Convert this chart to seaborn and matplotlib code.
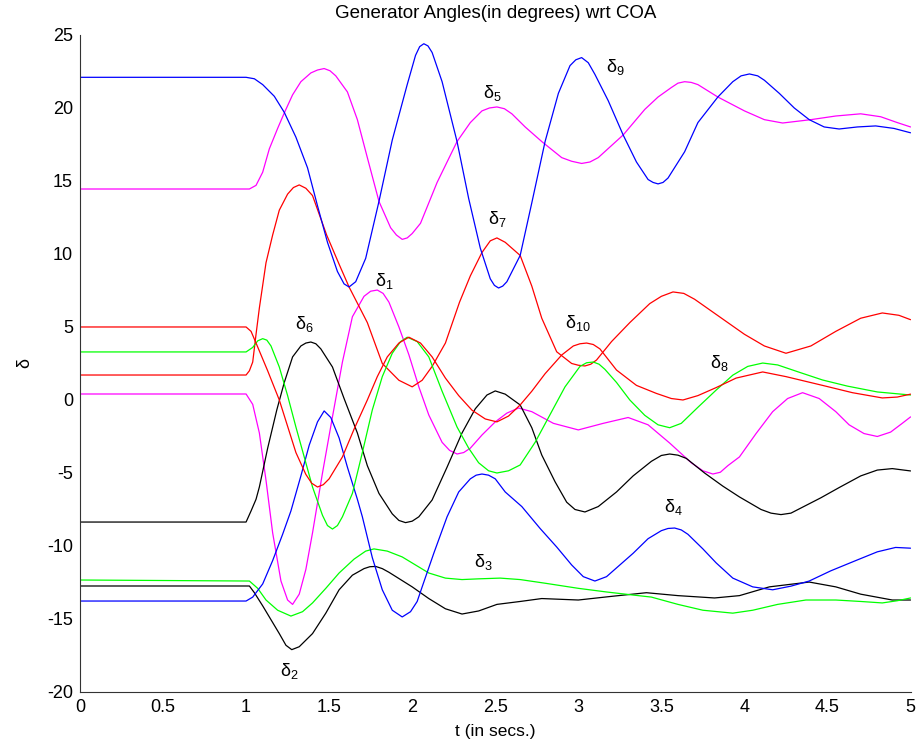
import matplotlib
matplotlib.use("Agg")
import matplotlib.pyplot as plt
import seaborn as sns

# Rotor angles of the ten generators relative to the centre of angle (degrees)
t_d1 = [0, 1.0, 1.04, 1.08, 1.12, 1.16, 1.21, 1.25, 1.28, 1.32, 1.36, 1.40, 1.46, 1.52, 1.58, 1.64, 1.71, 1.75, 1.79, 1.825, 1.86, 1.92, 1.98, 2.04, 2.10, 2.18, 2.225, 2.27, 2.31, 2.35, 2.42, 2.50, 2.57, 2.64, 2.72, 2.85, 3.0, 3.15, 3.30, 3.42, 3.55, 3.68, 3.75, 3.81, 3.855, 3.90, 3.97, 4.07, 4.17, 4.26, 4.35, 4.45, 4.55, 4.63, 4.72, 4.80, 4.88, 4.95, 5.0]
v_d1 = [0.41, 0.41, -0.3, -2.26, -5.5, -9.1, -12.4, -13.7, -14.0, -13.3, -11.6, -9.1, -5.0, -1.16, 2.6, 5.7, 7.1, 7.45, 7.53, 7.3, 6.7, 5.0, 3.1, 0.9, -1.03, -2.9, -3.45, -3.7, -3.6, -3.3, -2.4, -1.5, -0.9, -0.55, -0.8, -1.6, -2.05, -1.6, -1.2, -1.7, -2.95, -4.3, -4.85, -5.07, -4.95, -4.5, -3.9, -2.3, -0.8, 0.1, 0.5, 0.1, -0.8, -1.7, -2.3, -2.5, -2.2, -1.6, -1.16]

t_d2 = [0, 1.02, 1.05, 1.10, 1.14, 1.20, 1.24, 1.275, 1.32, 1.40, 1.48, 1.56, 1.64, 1.71, 1.745, 1.78, 1.82, 1.86, 1.93, 2.0, 2.10, 2.20, 2.30, 2.40, 2.51, 2.65, 2.78, 3.0, 3.2, 3.41, 3.60, 3.82, 3.97, 4.15, 4.39, 4.55, 4.70, 4.89, 5.0]
v_d2 = [-12.74, -12.74, -13.2, -14.1, -14.86, -16.0, -16.8, -17.1, -16.9, -16.0, -14.6, -13.0, -12.0, -11.55, -11.42, -11.4, -11.55, -11.8, -12.3, -12.8, -13.6, -14.3, -14.66, -14.45, -14.0, -13.8, -13.6, -13.7, -13.45, -13.2, -13.4, -13.56, -13.4, -12.8, -12.47, -12.8, -13.3, -13.7, -13.7]

t_d3 = [0, 1.02, 1.07, 1.12, 1.19, 1.27, 1.34, 1.40, 1.48, 1.56, 1.65, 1.72, 1.77, 1.85, 1.94, 2.02, 2.10, 2.20, 2.30, 2.40, 2.53, 2.65, 2.80, 3.0, 3.17, 3.33, 3.44, 3.60, 3.75, 3.93, 4.05, 4.20, 4.37, 4.55, 4.70, 4.83, 4.92, 5.0]
v_d3 = [-12.33, -12.4, -12.9, -13.7, -14.4, -14.8, -14.5, -13.9, -12.9, -11.85, -10.9, -10.35, -10.2, -10.35, -10.75, -11.3, -11.85, -12.2, -12.3, -12.25, -12.2, -12.3, -12.55, -12.9, -13.15, -13.36, -13.5, -14.0, -14.4, -14.6, -14.4, -14.0, -13.7, -13.7, -13.8, -13.9, -13.75, -13.56]

t_d4 = [0, 1.0, 1.04, 1.10, 1.16, 1.22, 1.27, 1.33, 1.38, 1.43, 1.47, 1.51, 1.56, 1.61, 1.67, 1.70, 1.76, 1.82, 1.88, 1.94, 1.99, 2.03, 2.06, 2.13, 2.21, 2.28, 2.35, 2.385, 2.42, 2.46, 2.50, 2.56, 2.66, 2.77, 2.87, 2.96, 3.03, 3.10, 3.17, 3.25, 3.33, 3.42, 3.50, 3.54, 3.58, 3.62, 3.66, 3.75, 3.83, 3.93, 4.05, 4.17, 4.28, 4.39, 4.52, 4.67, 4.80, 4.91, 5.0]
v_d4 = [-13.77, -13.77, -13.5, -12.6, -11.0, -9.2, -7.6, -5.2, -3.1, -1.5, -0.75, -1.2, -2.6, -4.6, -6.8, -8.0, -10.8, -13.0, -14.4, -14.86, -14.5, -13.8, -12.8, -10.5, -8.0, -6.3, -5.4, -5.15, -5.07, -5.15, -5.4, -6.3, -7.3, -8.8, -10.07, -11.3, -12.1, -12.4, -12.1, -11.3, -10.5, -9.5, -8.95, -8.8, -8.77, -8.9, -9.2, -10.2, -11.16, -12.2, -12.8, -13.0, -12.75, -12.4, -11.7, -11.0, -10.4, -10.1, -10.15]

t_d5 = [0, 1.02, 1.06, 1.10, 1.14, 1.19, 1.23, 1.28, 1.33, 1.39, 1.43, 1.47, 1.505, 1.54, 1.61, 1.67, 1.73, 1.80, 1.87, 1.905, 1.94, 1.97, 2.00, 2.05, 2.15, 2.27, 2.35, 2.42, 2.465, 2.51, 2.555, 2.60, 2.68, 2.78, 2.90, 2.96, 3.02, 3.07, 3.12, 3.27, 3.40, 3.48, 3.56, 3.60, 3.64, 3.68, 3.72, 3.84, 4.00, 4.12, 4.23, 4.40, 4.55, 4.70, 4.82, 4.92, 5.0]
v_d5 = [14.45, 14.45, 14.7, 15.6, 17.2, 18.6, 19.66, 20.9, 21.8, 22.4, 22.6, 22.7, 22.55, 22.2, 21.1, 19.2, 16.6, 13.6, 11.8, 11.3, 11.0, 11.1, 11.4, 12.1, 14.9, 17.7, 19.0, 19.8, 20.0, 20.07, 19.95, 19.6, 18.7, 17.7, 16.6, 16.35, 16.2, 16.3, 16.6, 18.15, 19.9, 20.75, 21.4, 21.7, 21.8, 21.75, 21.6, 20.75, 19.8, 19.2, 18.97, 19.2, 19.45, 19.6, 19.4, 19.0, 18.7]

t_d6 = [0, 1.0, 1.03, 1.06, 1.08, 1.13, 1.185, 1.23, 1.28, 1.33, 1.36, 1.39, 1.42, 1.45, 1.52, 1.59, 1.67, 1.73, 1.80, 1.88, 1.92, 1.96, 2.0, 2.04, 2.12, 2.21, 2.30, 2.38, 2.45, 2.50, 2.56, 2.65, 2.72, 2.78, 2.86, 2.93, 2.98, 3.04, 3.12, 3.23, 3.33, 3.44, 3.50, 3.55, 3.60, 3.65, 3.76, 3.87, 3.97, 4.10, 4.16, 4.22, 4.28, 4.34, 4.46, 4.57, 4.70, 4.80, 4.89, 5.0]
v_d6 = [-8.36, -8.36, -7.6, -6.8, -5.96, -3.3, -0.68, 1.2, 2.95, 3.7, 3.9, 3.97, 3.85, 3.5, 2.26, 0.1, -2.26, -4.5, -6.4, -7.8, -8.25, -8.4, -8.3, -8.0, -6.85, -4.6, -2.26, -0.6, 0.34, 0.62, 0.4, -0.34, -1.9, -3.77, -5.6, -7.0, -7.5, -7.67, -7.3, -6.3, -5.2, -4.2, -3.8, -3.7, -3.78, -4.0, -5.0, -5.9, -6.64, -7.5, -7.75, -7.85, -7.75, -7.4, -6.7, -6.0, -5.2, -4.8, -4.7, -4.86]

t_d7 = [0, 1.0, 1.02, 1.04, 1.06, 1.08, 1.12, 1.16, 1.20, 1.25, 1.285, 1.32, 1.36, 1.40, 1.485, 1.56, 1.62, 1.73, 1.82, 1.92, 2.0, 2.06, 2.12, 2.20, 2.285, 2.35, 2.42, 2.47, 2.51, 2.56, 2.65, 2.72, 2.78, 2.87, 2.96, 3.0, 3.04, 3.075, 3.11, 3.20, 3.31, 3.43, 3.50, 3.57, 3.635, 3.70, 3.85, 4.00, 4.12, 4.25, 4.40, 4.55, 4.70, 4.83, 4.93, 5.0]
v_d7 = [1.71, 1.71, 2.0, 2.6, 4.5, 6.3, 9.4, 11.3, 13.0, 14.1, 14.55, 14.73, 14.5, 14.0, 11.3, 9.3, 7.74, 5.3, 2.5, 1.35, 0.9, 1.35, 2.3, 3.9, 6.7, 8.5, 10.1, 10.9, 11.1, 10.8, 9.9, 7.8, 5.6, 3.3, 2.5, 2.38, 2.33, 2.45, 2.74, 4.0, 5.3, 6.6, 7.1, 7.4, 7.3, 6.9, 5.7, 4.5, 3.7, 3.2, 3.7, 4.7, 5.6, 5.96, 5.8, 5.5]

t_d8 = [0, 1.0, 1.04, 1.07, 1.10, 1.125, 1.15, 1.20, 1.25, 1.30, 1.35, 1.40, 1.46, 1.49, 1.52, 1.55, 1.58, 1.64, 1.70, 1.76, 1.82, 1.88, 1.93, 1.97, 2.03, 2.10, 2.18, 2.27, 2.34, 2.40, 2.46, 2.51, 2.58, 2.65, 2.74, 2.83, 2.92, 3.01, 3.05, 3.09, 3.125, 3.16, 3.23, 3.31, 3.40, 3.48, 3.55, 3.62, 3.72, 3.83, 3.93, 4.02, 4.11, 4.20, 4.33, 4.47, 4.62, 4.80, 5.0]
v_d8 = [3.29, 3.29, 3.6, 4.05, 4.2, 4.1, 3.7, 2.26, 0.3, -1.85, -3.9, -5.96, -7.9, -8.6, -8.84, -8.6, -8.0, -6.4, -3.6, -0.68, 1.6, 3.2, 4.0, 4.3, 4.0, 2.95, 0.6, -1.85, -3.3, -4.3, -4.85, -5.0, -4.85, -4.45, -2.9, -1.0, 0.9, 2.3, 2.55, 2.6, 2.45, 2.1, 1.2, 0.0, -1.05, -1.7, -1.9, -1.6, -0.5, 0.68, 1.7, 2.3, 2.53, 2.4, 1.9, 1.37, 0.95, 0.55, 0.34]

t_d9 = [0, 1.0, 1.05, 1.10, 1.17, 1.23, 1.30, 1.37, 1.43, 1.49, 1.55, 1.59, 1.62, 1.66, 1.72, 1.80, 1.88, 1.97, 2.02, 2.045, 2.07, 2.095, 2.12, 2.18, 2.27, 2.34, 2.41, 2.47, 2.495, 2.52, 2.545, 2.57, 2.65, 2.72, 2.80, 2.88, 2.95, 2.985, 3.02, 3.06, 3.10, 3.18, 3.27, 3.35, 3.42, 3.45, 3.48, 3.51, 3.54, 3.64, 3.72, 3.84, 3.93, 3.98, 4.03, 4.08, 4.12, 4.21, 4.30, 4.39, 4.48, 4.57, 4.68, 4.79, 4.90, 5.0]
v_d9 = [22.1, 22.1, 22.0, 21.6, 20.8, 19.7, 18.0, 15.9, 13.3, 10.8, 8.8, 7.95, 7.74, 8.1, 9.7, 13.6, 17.8, 21.6, 23.6, 24.2, 24.4, 24.25, 23.8, 21.8, 17.7, 13.8, 10.4, 8.3, 7.85, 7.67, 7.8, 8.1, 9.9, 13.5, 17.7, 21.0, 22.9, 23.3, 23.45, 23.1, 22.3, 20.5, 18.15, 16.3, 15.1, 14.9, 14.8, 14.9, 15.2, 17.0, 19.0, 20.75, 21.8, 22.2, 22.33, 22.2, 21.9, 21.0, 20.0, 19.2, 18.7, 18.56, 18.7, 18.77, 18.6, 18.3]

t_d10 = [0, 1.0, 1.03, 1.06, 1.13, 1.20, 1.25, 1.30, 1.36, 1.395, 1.43, 1.465, 1.50, 1.58, 1.65, 1.73, 1.79, 1.85, 1.92, 1.98, 2.05, 2.12, 2.20, 2.28, 2.36, 2.44, 2.51, 2.58, 2.65, 2.72, 2.80, 2.90, 2.97, 3.01, 3.05, 3.09, 3.13, 3.23, 3.35, 3.47, 3.56, 3.63, 3.72, 3.83, 3.95, 4.11, 4.25, 4.47, 4.65, 4.83, 4.92, 5.0]
v_d10 = [5.0, 5.0, 4.7, 3.9, 2.0, 0.0, -1.8, -3.6, -5.1, -5.7, -5.96, -5.8, -5.4, -3.9, -2.0, 0.0, 1.6, 2.95, 3.9, 4.3, 3.9, 2.95, 1.5, 0.3, -0.7, -1.3, -1.5, -1.1, -0.34, 0.6, 1.8, 3.08, 3.7, 3.85, 3.9, 3.8, 3.5, 2.05, 1.0, 0.45, 0.1, 0.0, 0.3, 0.85, 1.5, 1.92, 1.6, 1.0, 0.5, 0.14, 0.2, 0.4]

# Curve labels: generator number and where its tag sits (t, angle)
label_ids = ["1", "2", "3", "4", "5", "6", "7", "8", "9", "10"]
label_t = [1.835, 1.26, 2.43, 3.57, 2.48, 1.35, 2.51, 3.85, 3.22, 3.00]
label_v = [8.15, -18.55, -11.1, -7.3, 21.0, 5.2, 12.4, 2.5, 22.8, 5.3]

x_ticks = [0, 0.5, 1, 1.5, 2, 2.5, 3, 3.5, 4, 4.5, 5]
x_tick_labels = ["0", "0.5", "1", "1.5", "2", "2.5", "3", "3.5", "4", "4.5", "5"]
y_ticks = [-20, -15, -10, -5, 0, 5, 10, 15, 20, 25]

sns.set_style("white")
plt.rcParams["font.family"] = ["Liberation Sans", "DejaVu Sans"]
plt.rcParams["axes.unicode_minus"] = False
plt.rcParams["text.color"] = "black"
plt.rcParams["axes.labelcolor"] = "black"

fig = plt.figure(figsize=(9.19, 7.44), dpi=100)
ax = fig.add_axes([0.087, 0.0699, 0.9038, 0.8831])

curves = [
    (t_d1, v_d1, "#ff00ff"),
    (t_d2, v_d2, "#000000"),
    (t_d3, v_d3, "#00ff00"),
    (t_d4, v_d4, "#0000ff"),
    (t_d5, v_d5, "#ff00ff"),
    (t_d6, v_d6, "#000000"),
    (t_d7, v_d7, "#ff0000"),
    (t_d8, v_d8, "#00ff00"),
    (t_d9, v_d9, "#0000ff"),
    (t_d10, v_d10, "#ff0000"),
]
for tt, vv, col in curves:
    sns.lineplot(x=tt, y=vv, color=col, linewidth=0.9, ax=ax,
                 estimator=None, sort=False)

for gid, lt, lv in zip(label_ids, label_t, label_v):
    ax.text(lt, lv, r"$\mathregular{\delta_{%s}}$" % gid,
            ha="center", va="center", fontsize=13, color="black")

ax.set_xlim(0, 5)
ax.set_ylim(-20, 25)
ax.set_xticks(x_ticks)
ax.set_xticklabels(x_tick_labels)
ax.set_yticks(y_ticks)
ax.tick_params(direction="in", length=5.5, width=0.8, labelsize=13,
               colors="black", pad=5)
for side in ("top", "right"):
    ax.spines[side].set_visible(False)
for side in ("left", "bottom"):
    ax.spines[side].set_color("#333333")
    ax.spines[side].set_linewidth(0.8)

ax.set_title("Generator Angles(in degrees) wrt COA", fontsize=13.5, pad=12,
             color="black")
ax.set_xlabel("t (in secs.)", fontsize=12.5, labelpad=6)
ax.set_ylabel("δ", fontsize=13, labelpad=10)

fig.savefig("out.png", dpi=100, facecolor="white")
